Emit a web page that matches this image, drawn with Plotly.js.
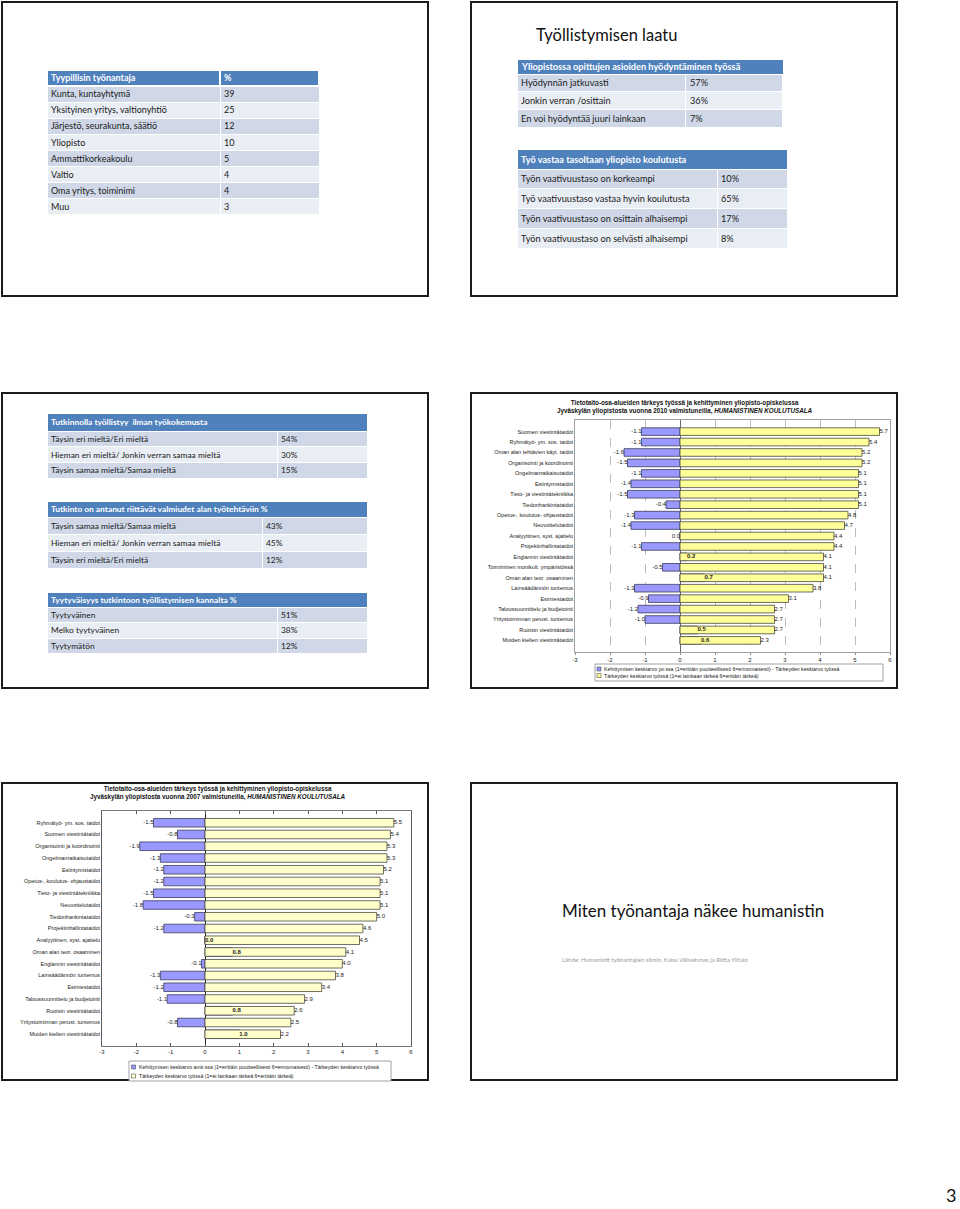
<!DOCTYPE html>
<html><head><meta charset="utf-8">
<script src="https://cdn.plot.ly/plotly-3.0.1.min.js"></script>
<style>html,body{margin:0;padding:0;background:#fff}#chart{width:960px;height:1209px}</style>
</head><body><div id="chart"></div>
<script>
// ---------------- data ----------------
const employerTitle = ['Tyypillisin työnantaja', '%'];
const employerLabels = ['Kunta, kuntayhtymä','Yksityinen yritys, valtionyhtiö','Järjestö, seurakunta, säätiö','Yliopisto','Ammattikorkeakoulu','Valtio','Oma yritys, toiminimi','Muu'];
const employerPct = ['39','25','12','10','5','4','4','3'];

const useTitle = 'Yliopistossa opittujen asioiden hyödyntäminen työssä';
const useLabels = ['Hyödynnän jatkuvasti','Jonkin verran /osittain','En voi hyödyntää juuri lainkaan'];
const usePct = ['57%','36%','7%'];

const levelTitle = 'Työ vastaa tasoltaan yliopisto koulutusta';
const levelLabels = ['Työn vaativuustaso on korkeampi','Työ vaativuustaso vastaa hyvin koulutusta','Työn vaativuustaso on osittain alhaisempi','Työn vaativuustaso on selvästi alhaisempi'];
const levelPct = ['10%','65%','17%','8%'];

const noExpTitle = 'Tutkinnolla työllistyy  ilman työkokemusta';
const noExpLabels = ['Täysin eri mieltä/Eri mieltä','Hieman eri mieltä/ Jonkin verran samaa mieltä','Täysin samaa mieltä/Samaa mieltä'];
const noExpPct = ['54%','30%','15%'];

const readyTitle = 'Tutkinto on antanut riittävät valmiudet alan työtehtäviin %';
const readyLabels = ['Täysin samaa mieltä/Samaa mieltä','Hieman eri mieltä/ Jonkin verran samaa mieltä','Täysin eri mieltä/Eri mieltä'];
const readyPct = ['43%','45%','12%'];

const satTitle = 'Tyytyväisyys tutkintoon työllistymisen kannalta %';
const satLabels = ['Tyytyväinen','Melko tyytyväinen','Tyytymätön'];
const satPct = ['51%','38%','12%'];

// 2010 chart (difference: development mean - importance mean; importance mean)
const skills2010 = ['Suomen viestintätaidot','Ryhmätyö- ym. sos. taidot','Oman alan tehtävien käyt. taidot','Organisointi ja koordinointi','Ongelmanratkaisutaidot','Esiintymistaidot','Tieto- ja viestintätekniikka','Tiedonhankintataidot','Opetus-, koulutus- ohjaustaidot','Neuvottelutaidot','Analyyttinen, syst. ajattelu','Projektinhallintataidot','Englannin viestintätaidot','Toimiminen monikult. ympäristössä','Oman alan teor. osaaminen','Lainsäädännön tuntemus','Esimiestaidot','Taloussuunnittelu ja budjetointi','Yritystoiminnan perust. tuntemus','Ruotsin viestintätaidot','Muiden kielten viestintätaidot'];
const diff2010 = [-1.1,-1.1,-1.6,-1.5,-1.1,-1.4,-1.5,-0.4,-1.3,-1.4,-0.0,-1.1,0.2,-0.5,0.7,-1.3,-0.9,-1.2,-1.0,0.5,0.6];
const imp2010 = [5.7,5.4,5.2,5.2,5.1,5.1,5.1,5.1,4.8,4.7,4.4,4.4,4.1,4.1,4.1,3.8,3.1,2.7,2.7,2.7,2.3];

// 2007 chart
const skills2007 = ['Ryhmätyö- ym. sos. taidot','Suomen viestintätaidot','Organisointi ja koordinointi','Ongelmanratkaisutaidot','Esiintymistaidot','Opetus-, koulutus- ohjaustaidot','Tieto- ja viestintätekniikka','Neuvottelutaidot','Tiedonhankintataidot','Projektinhallintataidot','Analyyttinen, syst. ajattelu','Oman alan teor. osaaminen','Englannin viestintätaidot','Lainsäädännön tuntemus','Esimiestaidot','Taloussuunnittelu ja budjetointi','Ruotsin viestintätaidot','Yritystoiminnan perust. tuntemus','Muiden kielten viestintätaidot'];
const diff2007 = [-1.5,-0.8,-1.9,-1.3,-1.2,-1.2,-1.5,-1.8,-0.3,-1.2,0.0,0.8,-0.1,-1.3,-1.2,-1.1,0.8,-0.8,1.0];
const imp2007 = [5.5,5.4,5.3,5.3,5.2,5.1,5.1,5.1,5.0,4.6,4.5,4.1,4.0,3.8,3.4,2.9,2.6,2.5,2.2];

const xTicks = [-3,-2,-1,0,1,2,3,4,5,6];

// ---------------- helpers ----------------
const W = 960, H = 1209;
const px = v => v / W;
const py = v => 1 - v / H;
const HEAD_BLUE = '#4F81BD', ROW_DARK = '#D0D8E8', ROW_LIGHT = '#E9EDF4';
const TFONT = 'Lato, "Open Sans", sans-serif';
const CFONT = '"Liberation Sans", Arial, sans-serif';
const EMPTY_HEAD = 16;
const PAD = 1.8;
const rowFills = n => Array.from({length: n}, (_, i) => i % 2 === 0 ? ROW_DARK : ROW_LIGHT);
const blanks = n => Array.from({length: n}, () => '');

const ann = (x, y, text, font, xanchor = 'left', extra = {}) => Object.assign({
  xref: 'paper', yref: 'paper', x: px(x), y: py(y), text, showarrow: false,
  xanchor, yanchor: 'middle', font, align: xanchor === 'center' ? 'center' : 'left'
}, extra);

const traces = [];
const annotations = [];

// table text is placed by annotations (centred in each row); the table trace draws the cells
function addCellTexts(b, labels, values, size) {
  const bodyTop = b.top + b.headH;
  labels.forEach((l, i) => {
    const yc = bodyTop + (i + 0.5) * b.rowH;
    annotations.push(ann(b.x0 + PAD, yc, l, {family: TFONT, size, color: '#1a1a1a'}));
    annotations.push(ann(b.split + PAD, yc, values[i], {family: TFONT, size, color: '#1a1a1a'}));
  });
}
function addSpanTable(b, title, labels, values, size) {
  const n = labels.length, fills = rowFills(n), bodyTop = b.top + b.headH;
  traces.push({
    type: 'table',
    domain: {x: [px(b.x0), px(b.x1)], y: [py(b.top + b.headH + 2), py(b.top)]},
    columnwidth: [1],
    header: {values: [''], height: b.headH, fill: {color: HEAD_BLUE}, line: {color: '#ffffff', width: 1}},
    cells: {values: []}
  });
  traces.push({
    type: 'table',
    domain: {x: [px(b.x0), px(b.x1)], y: [py(bodyTop + n * b.rowH + 4), py(bodyTop - EMPTY_HEAD)]},
    columnwidth: [b.split - b.x0, b.x1 - b.split],
    header: {values: [], fill: {color: 'rgba(0,0,0,0)'}, line: {color: 'rgba(0,0,0,0)', width: 0}},
    cells: {values: [blanks(n), blanks(n)], height: b.rowH,
      fill: {color: [fills, fills]}, line: {color: '#ffffff', width: 1}}
  });
  annotations.push(ann(b.x0 + PAD, b.top + b.headH / 2, '<b>' + title + '</b>', {family: TFONT, size, color: '#ffffff'}));
  addCellTexts(b, labels, values, size);
}

// slide 1 table (two-column header)
const boxEmployer = {x0: 47, x1: 319, split: 220, top: 70, headH: 16, rowH: 16};
{
  const b = boxEmployer, n = employerLabels.length, fills = rowFills(n);
  traces.push({
    type: 'table',
    domain: {x: [px(b.x0), px(b.x1)], y: [py(b.top + b.headH + n * b.rowH + 4), py(b.top)]},
    columnwidth: [b.split - b.x0, b.x1 - b.split],
    header: {values: ['', ''], height: b.headH, fill: {color: HEAD_BLUE}, line: {color: '#ffffff', width: 1.5}},
    cells: {values: [blanks(n), blanks(n)], height: b.rowH,
      fill: {color: [fills, fills]}, line: {color: '#ffffff', width: 1}}
  });
  annotations.push(ann(b.x0 + PAD, b.top + b.headH / 2, '<b>' + employerTitle[0] + '</b>', {family: TFONT, size: 9, color: '#ffffff'}));
  annotations.push(ann(b.split + PAD, b.top + b.headH / 2, '<b>' + employerTitle[1] + '</b>', {family: TFONT, size: 9, color: '#ffffff'}));
  addCellTexts(b, employerLabels, employerPct, 9);
}
// slide 2 tables
const boxUse = {x0: 517, x1: 784, split: 686, top: 59, headH: 15, rowH: 17.7};
const boxLevel = {x0: 517, x1: 787, split: 717, top: 149, headH: 20, rowH: 19.75};
// slide 3 tables
const boxNoExp = {x0: 47, x1: 367, split: 277, top: 413, headH: 18, rowH: 15.7};
const boxReady = {x0: 47, x1: 367, split: 262, top: 501, headH: 16, rowH: 17.2};
const boxSat = {x0: 47, x1: 367, split: 277, top: 592, headH: 15, rowH: 15.6};

addSpanTable(boxUse, useTitle, useLabels, usePct, 9.2);
addSpanTable(boxLevel, levelTitle, levelLabels, levelPct, 9.2);
addSpanTable(boxNoExp, noExpTitle, noExpLabels, noExpPct, 8.4);
addSpanTable(boxReady, readyTitle, readyLabels, readyPct, 8.4);
addSpanTable(boxSat, satTitle, satLabels, satPct, 8.4);

// charts
function chartTraces(cats, diff, imp, xa, ya, yellow) {
  // a signed zero (-0.0) marks a value that rounds to 0.0 from below
  const leftSide = diff.map(v => v < 0 || Object.is(v, -0));
  return [
    {type: 'bar', orientation: 'h', x: diff, y: cats, xaxis: xa, yaxis: ya, hoverinfo: 'skip',
      marker: {color: '#9999FF', line: {color: '#3c3c5c', width: 0.8}}},
    {type: 'bar', orientation: 'h', x: imp, y: cats, xaxis: xa, yaxis: ya, hoverinfo: 'skip',
      marker: {color: yellow, line: {color: '#4a4a40', width: 0.8}}},
    {type: 'scatter', mode: 'text', x: imp, y: cats, xaxis: xa, yaxis: ya, hoverinfo: 'skip', cliponaxis: false,
      text: imp.map(v => v.toFixed(1)), textposition: 'middle right',
      textfont: {family: CFONT, size: 6, color: '#222'}},
    {type: 'scatter', mode: 'text', x: diff, y: cats, xaxis: xa, yaxis: ya, hoverinfo: 'skip', cliponaxis: false,
      text: diff.map((v, i) => leftSide[i] ? v.toFixed(1) : '<b>' + v.toFixed(1) + '</b>'),
      textposition: leftSide.map(s => s ? 'middle left' : 'middle right'),
      textfont: {family: CFONT, size: 6, color: '#222'}}
  ];
}
traces.push(...chartTraces(skills2010, diff2010, imp2010, 'x', 'y', '#FFFF99'));
traces.push(...chartTraces(skills2007, diff2007, imp2007, 'x2', 'y2', '#FFFFCC'));

// ---------------- layout ----------------
const slideBoxes = [[2, 2, 428, 296], [471, 2, 897, 296], [2, 393, 428, 688], [471, 393, 897, 688], [2, 783, 428, 1080], [471, 783, 897, 1080]];
const shapes = slideBoxes.map(([x0, y0, x1, y1]) => ({
  type: 'rect', xref: 'paper', yref: 'paper', x0: px(x0), x1: px(x1), y0: py(y0), y1: py(y1),
  line: {color: '#1c1c1c', width: 2}, fillcolor: 'rgba(0,0,0,0)', layer: 'above'
}));
function legendShapes(b, yellow) {
  const s = [];
  s.push({type: 'rect', xref: 'paper', yref: 'paper', x0: px(b.x0), x1: px(b.x1), y0: py(b.y0), y1: py(b.y1),
    line: {color: '#8a8a8a', width: 0.8}, fillcolor: '#ffffff', layer: 'above'});
  [[b.r1, '#9999FF'], [b.r2, yellow]].forEach(([yc, col]) => s.push({type: 'rect', xref: 'paper', yref: 'paper',
    x0: px(b.sx), x1: px(b.sx + 4), y0: py(yc - 2), y1: py(yc + 2),
    line: {color: '#333', width: 0.5}, fillcolor: col, layer: 'above'}));
  return s;
}
const leg2010 = {x0: 595, x1: 883, y0: 664, y1: 681, sx: 597, r1: 669, r2: 675.5};
const leg2007 = {x0: 129, x1: 391, y0: 1061, y1: 1081, sx: 131.5, r1: 1067, r2: 1076};
shapes.push(...legendShapes(leg2010, '#FFFF99'), ...legendShapes(leg2007, '#FFFFCC'));

const legTxt1_2010 = 'Kehittymisen keskiarvo yo:ssa (1=erittäin puutteellisesti 6=erinomaisesti) - Tärkeyden keskiarvo työssä';
const legTxt1_2007 = 'Kehittymisen keskiarvo amk:ssa (1=erittäin puutteellisesti 6=erinomaisesti) - Tärkeyden keskiarvo työssä';
const legTxt2 = 'Tärkeyden keskiarvo työssä (1=ei lainkaan tärkeä 6=erittäin tärkeä)';
const legFont = {family: CFONT, size: 5.2, color: '#222'};
const titleFont = {family: CFONT, size: 6.3, color: '#111'};

annotations.push(
  ann(534, 35, 'Työllistymisen laatu', {family: TFONT, size: 16.5, color: '#111'}),
  ann(685, 406.5, '<b>Tietotaito-osa-alueiden tärkeys työssä ja kehittyminen yliopisto-opiskelussa<br>Jyväskylän yliopistosta vuonna 2010 valmistuneilla, <i>HUMANISTINEN KOULUTUSALA</i></b>', titleFont, 'center'),
  ann(218, 793, '<b>Tietotaito-osa-alueiden tärkeys työssä ja kehittyminen yliopisto-opiskelussa<br>Jyväskylän yliopistosta vuonna 2007 valmistuneilla, <i>HUMANISTINEN KOULUTUSALA</i></b>', titleFont, 'center'),
  ann(leg2010.sx + 5, leg2010.r1, legTxt1_2010, legFont),
  ann(leg2010.sx + 5, leg2010.r2, legTxt2, legFont),
  ann(leg2007.sx + 5, leg2007.r1, legTxt1_2007, legFont),
  ann(leg2007.sx + 5, leg2007.r2, legTxt2, legFont),
  ann(560, 910, 'Miten työnantaja näkee humanistin', {family: TFONT, size: 17, color: '#111'}),
  ann(560, 959, 'Lähde: Humanistit työnantajien silmin, Kaisa Välivehmas ja Riitta Ylitalo', {family: TFONT, size: 6, color: '#9a9a9a'}),
  ann(951, 1195, '3', {family: TFONT, size: 18, color: '#111'}, 'center', {borderpad: 0})
);

const xCommon = {range: [-3, 6], tickmode: 'array', tickvals: xTicks, ticktext: xTicks.map(String),
  tickfont: {family: CFONT, size: 6, color: '#222'}, showline: true, fixedrange: true, automargin: false};
const yCommon = {type: 'category', autorange: 'reversed', tickfont: {family: CFONT, size: 5.5, color: '#222'},
  showline: true, showgrid: false, ticks: '', fixedrange: true, automargin: false, zeroline: false};

const layout = {
  width: W, height: H, margin: {l: 0, r: 0, t: 0, b: 0},
  paper_bgcolor: '#ffffff', plot_bgcolor: '#ffffff', showlegend: false,
  barmode: 'overlay', bargap: 0.27,
  font: {family: CFONT, size: 6, color: '#222'},
  xaxis: Object.assign({}, xCommon, {domain: [px(575), px(890)], anchor: 'y', showgrid: true,
    gridcolor: '#8f8f8f', gridwidth: 0.6, griddash: 'dash', zeroline: true, zerolinecolor: '#444', zerolinewidth: 0.8,
    linecolor: '#8a8a8a', linewidth: 0.8, mirror: true, ticks: 'outside', ticklen: 2, tickcolor: '#8a8a8a'}),
  yaxis: Object.assign({}, yCommon, {domain: [py(652), py(420)], anchor: 'x',
    tickmode: 'array', tickvals: skills2010, ticktext: skills2010, linecolor: '#8a8a8a', linewidth: 0.8, mirror: true}),
  xaxis2: Object.assign({}, xCommon, {domain: [px(102), px(411)], anchor: 'y2', showgrid: false,
    zeroline: true, zerolinecolor: '#222', zerolinewidth: 1,
    linecolor: '#555', linewidth: 0.8, mirror: 'ticks', ticks: 'inside', ticklen: 3, tickcolor: '#555'}),
  yaxis2: Object.assign({}, yCommon, {domain: [py(1046), py(811)], anchor: 'x2',
    tickmode: 'array', tickvals: skills2007, ticktext: skills2007, linecolor: '#333', linewidth: 0.8, mirror: true}),
  shapes, annotations
};

Plotly.newPlot('chart', traces, layout, {staticPlot: true, displayModeBar: false});
</script>
</body></html>
